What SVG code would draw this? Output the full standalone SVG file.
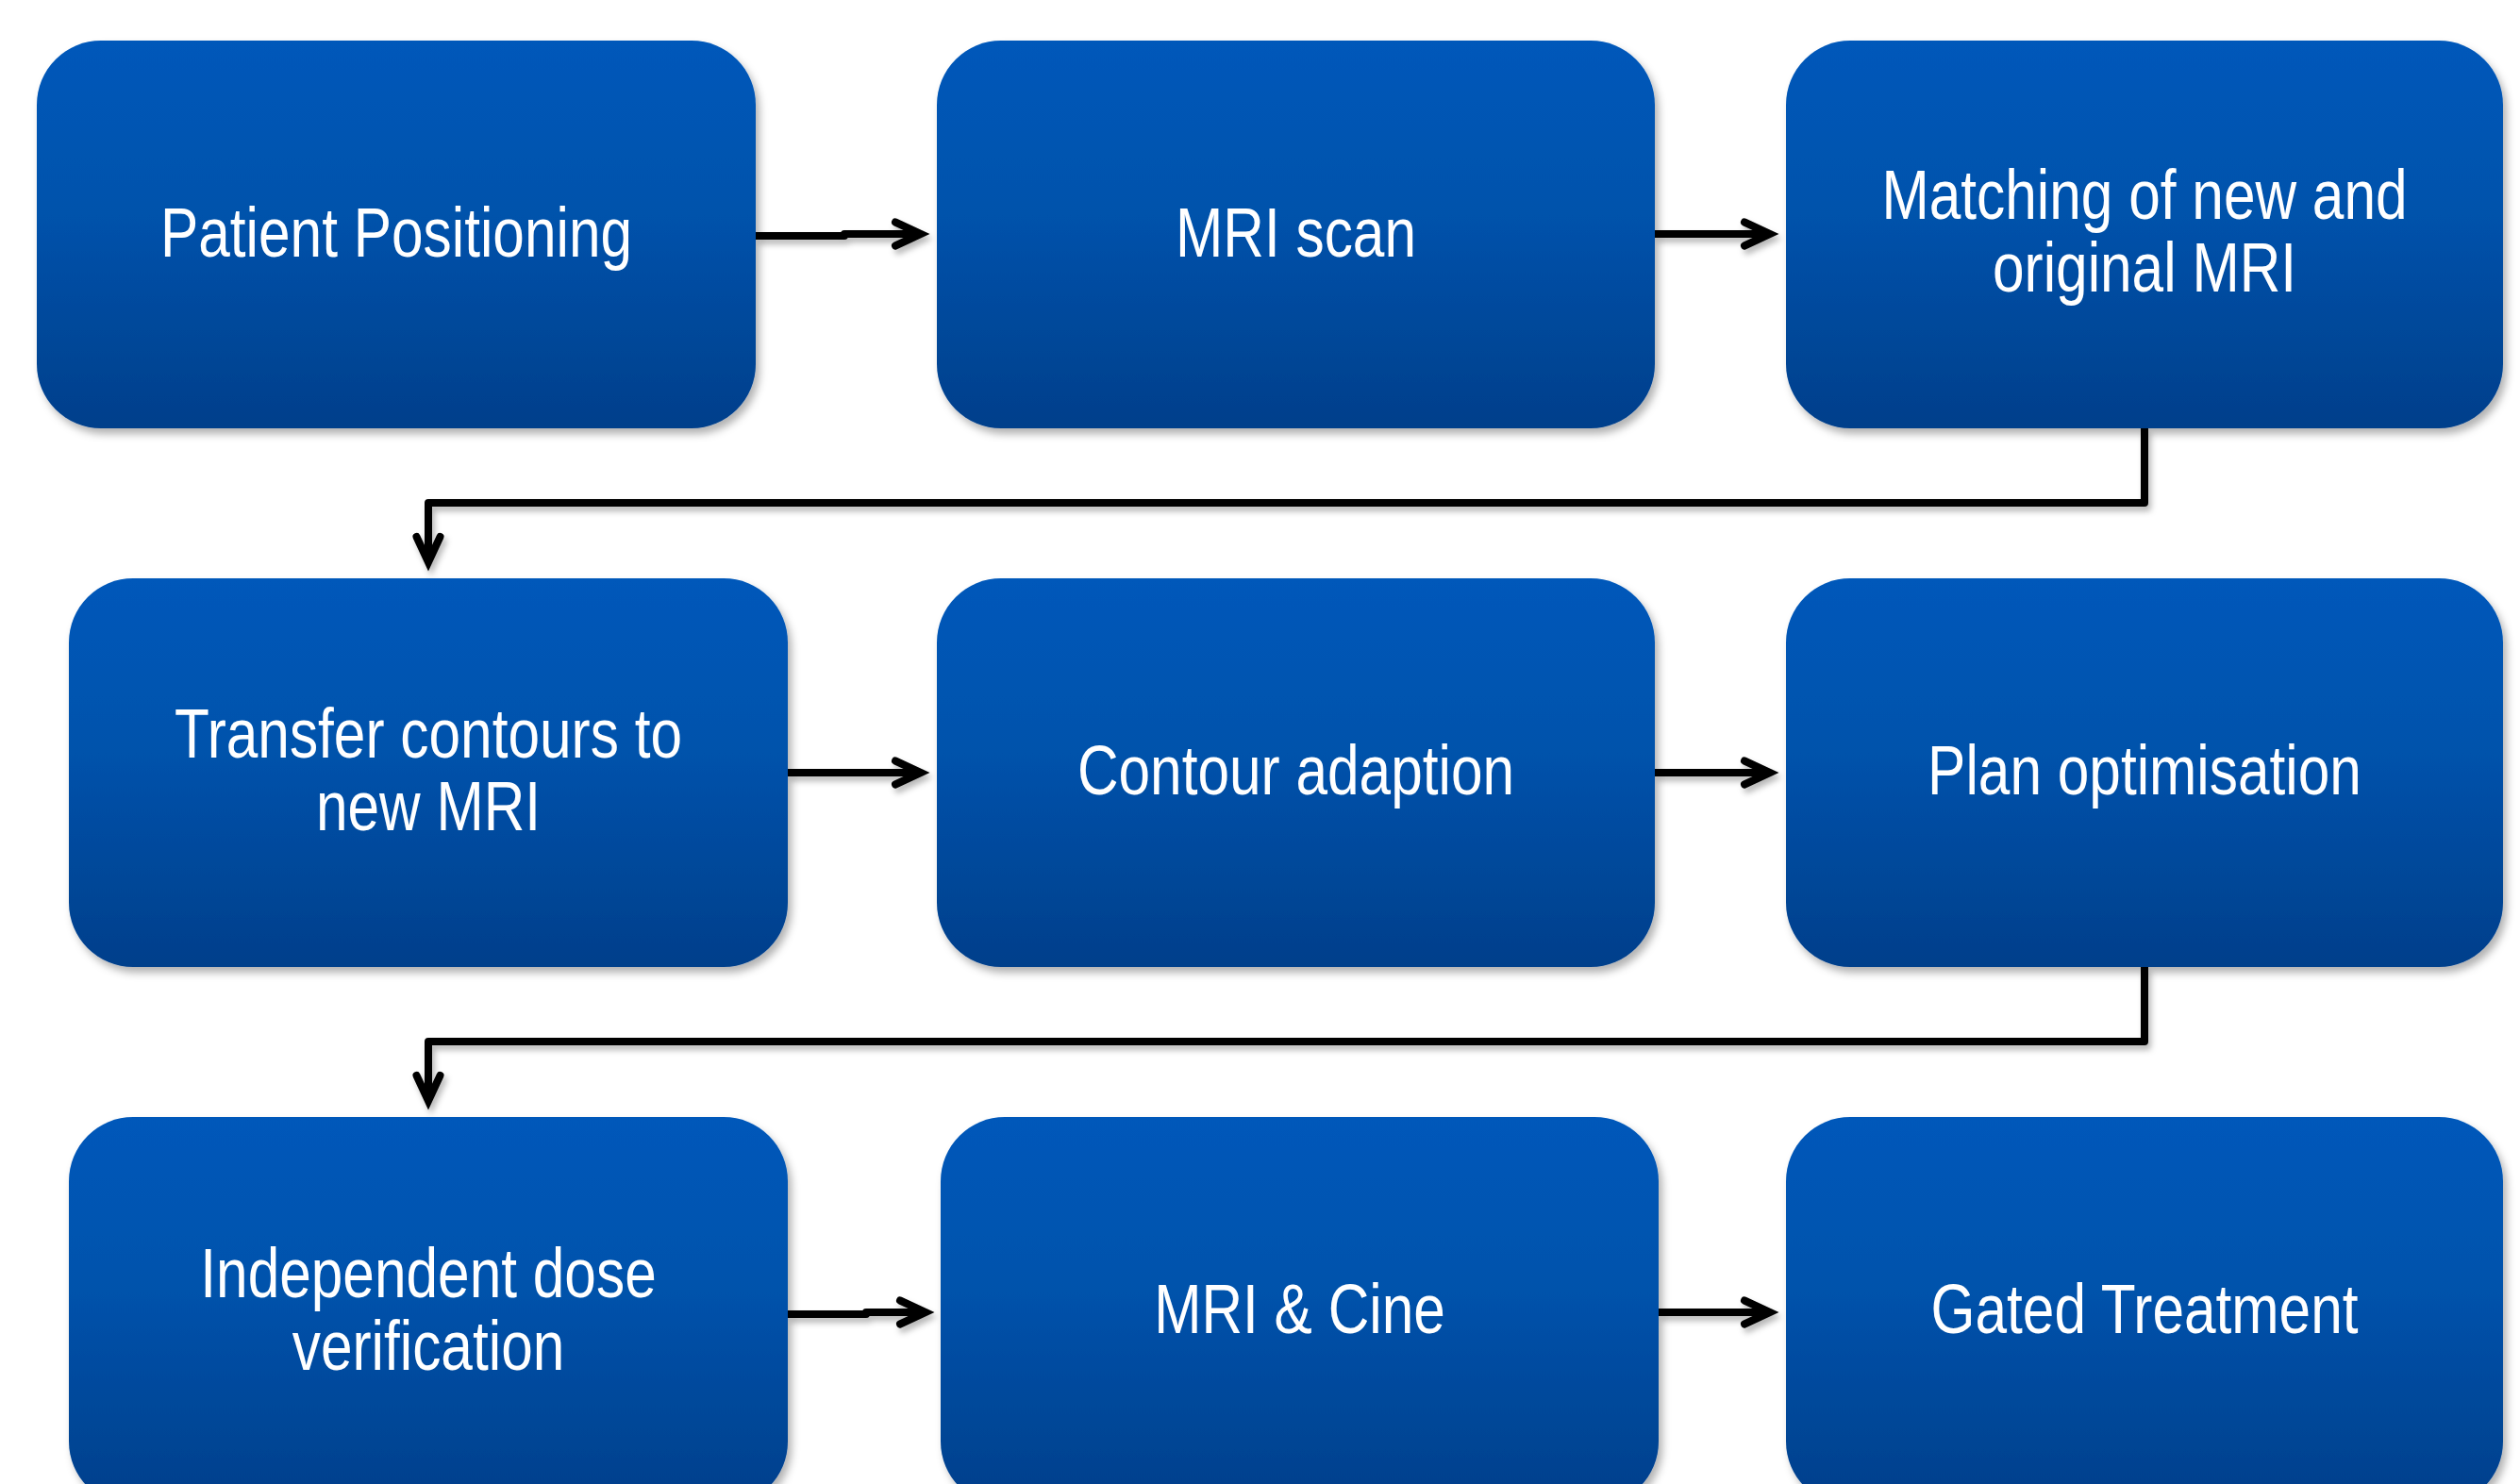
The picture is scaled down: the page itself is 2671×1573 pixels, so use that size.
<svg xmlns="http://www.w3.org/2000/svg" width="2671" height="1573" viewBox="0 0 2671 1573">
  <defs>
    <linearGradient id="boxFill" x1="0" y1="0" x2="0" y2="1">
      <stop offset="0" stop-color="#0058ba"/>
      <stop offset="0.45" stop-color="#0052ab"/>
      <stop offset="1" stop-color="#003f8b"/>
    </linearGradient>
    <filter id="shadow" x="-5%" y="-5%" width="112%" height="115%">
      <feDropShadow dx="4" dy="6" stdDeviation="4" flood-color="#000" flood-opacity="0.3"/>
    </filter>
    <filter id="lineShadow" x="-5%" y="-20%" width="110%" height="140%">
      <feDropShadow dx="3" dy="5" stdDeviation="3" flood-color="#000" flood-opacity="0.28"/>
    </filter>
    <marker id="arrow" markerUnits="userSpaceOnUse" markerWidth="40" markerHeight="40" viewBox="0 0 40 40" refX="34" refY="20" orient="auto" overflow="visible">
      <path d="M7,7.5 L34,20 L7,32.5" fill="none" stroke="#000" stroke-width="8" stroke-linecap="round" stroke-linejoin="miter" stroke-miterlimit="10"/>
    </marker>
  </defs>
  <style>
    .box { fill: url(#boxFill); filter: url(#shadow); }
    .label { font-family: "Liberation Sans", Arial, sans-serif; font-size: 75px; fill: #ffffff; text-anchor: middle; }
    .conn { fill: none; stroke: #000; stroke-width: 8; stroke-linejoin: round; marker-end: url(#arrow); }
  </style>

  <rect width="2671" height="1573" fill="#ffffff"/>

  <!-- connectors -->
  <g id="connectors" filter="url(#lineShadow)">
    <path class="conn" d="M801,250 H895 V248 H976"/>
    <path class="conn" d="M1754,248 H1876"/>
    <path class="conn" d="M2273,454 V533 H454 V596"/>
    <path class="conn" d="M835,819 H976"/>
    <path class="conn" d="M1754,819 H1876"/>
    <path class="conn" d="M2273,1025 V1104 H454 V1167"/>
    <path class="conn" d="M835,1393 H918 V1391 H981"/>
    <path class="conn" d="M1758,1391 H1876"/>
  </g>

  <!-- row 1 -->
  <g id="patient-positioning">
    <rect class="box" x="39" y="43" width="762" height="411" rx="68" ry="68"/>
    <text class="label" transform="translate(420,272) scale(0.805,1)">Patient Positioning</text>
  </g>
  <g id="mri-scan">
    <rect class="box" x="993" y="43" width="761" height="411" rx="68" ry="68"/>
    <text class="label" transform="translate(1373.5,272) scale(0.805,1)">MRI scan</text>
  </g>
  <g id="matching">
    <rect class="box" x="1893" y="43" width="760" height="411" rx="68" ry="68"/>
    <text class="label" transform="translate(2273,232) scale(0.805,1)">Matching of new and</text>
    <text class="label" transform="translate(2273,309) scale(0.805,1)">original MRI</text>
  </g>

  <!-- row 2 -->
  <g id="transfer-contours">
    <rect class="box" x="73" y="613" width="762" height="412" rx="68" ry="68"/>
    <text class="label" transform="translate(454,803) scale(0.805,1)">Transfer contours to</text>
    <text class="label" transform="translate(454,880) scale(0.805,1)">new MRI</text>
  </g>
  <g id="contour-adaption">
    <rect class="box" x="993" y="613" width="761" height="412" rx="68" ry="68"/>
    <text class="label" transform="translate(1373.5,842) scale(0.805,1)">Contour adaption</text>
  </g>
  <g id="plan-optimisation">
    <rect class="box" x="1893" y="613" width="760" height="412" rx="68" ry="68"/>
    <text class="label" transform="translate(2273,842) scale(0.805,1)">Plan optimisation</text>
  </g>

  <!-- row 3 -->
  <g id="dose-verification">
    <rect class="box" x="73" y="1184" width="762" height="412" rx="68" ry="68"/>
    <text class="label" transform="translate(454,1375) scale(0.805,1)">Independent dose</text>
    <text class="label" transform="translate(454,1452) scale(0.805,1)">verification</text>
  </g>
  <g id="mri-cine">
    <rect class="box" x="997" y="1184" width="761" height="412" rx="68" ry="68"/>
    <text class="label" transform="translate(1377.5,1413) scale(0.805,1)">MRI &amp; Cine</text>
  </g>
  <g id="gated-treatment">
    <rect class="box" x="1893" y="1184" width="760" height="412" rx="68" ry="68"/>
    <text class="label" transform="translate(2273,1413) scale(0.805,1)">Gated Treatment</text>
  </g>
</svg>
